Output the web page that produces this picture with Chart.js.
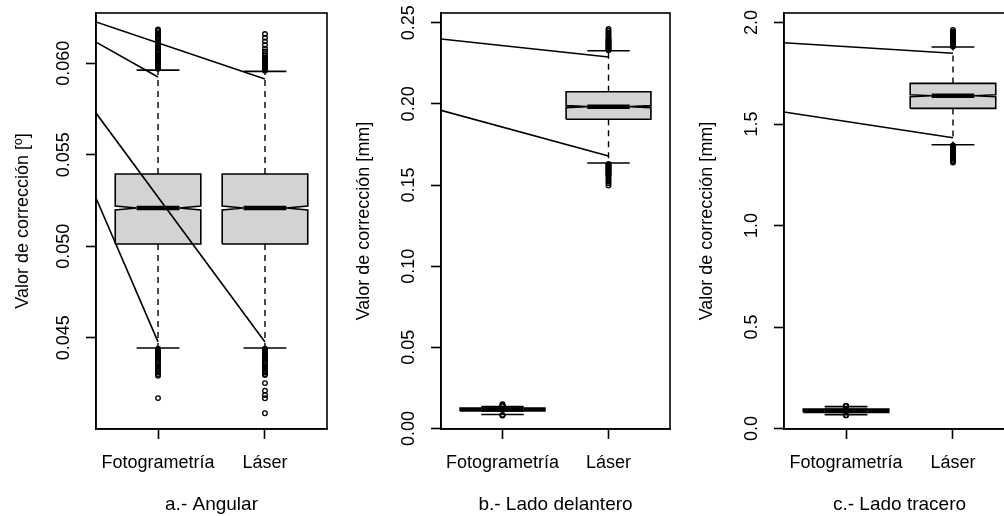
<!DOCTYPE html>
<html>
<head>
<meta charset="utf-8">
<script src="https://cdn.jsdelivr.net/npm/chart.js@4.4.1/dist/chart.umd.min.js"></script>
<style>
  html, body { margin: 0; padding: 0; background: #fff; overflow: hidden; }
  .panel { position: absolute; top: 0; width: 344px; height: 516px; }
</style>
</head>
<body>
<div class="panel" style="left:0px"><canvas id="angular"></canvas></div>
<div class="panel" style="left:345px"><canvas id="delantero"></canvas></div>
<div class="panel" style="left:688px"><canvas id="tracero"></canvas></div>
<script>
// categories and titles
const categories = ['Fotogrametría', 'Láser'];
const panelTitles = ['a.- Angular', 'b.- Lado delantero', 'c.- Lado tracero'];
const yTitles = ['Valor de corrección [º]', 'Valor de corrección [mm]', 'Valor de corrección [mm]'];

// a.- Angular (Fotogrametría, Láser)
const angLow = [0.04444, 0.04444];
const angQ1 = [0.05012, 0.05012];
const angMed = [0.05209, 0.05209];
const angQ3 = [0.05395, 0.05395];
const angHigh = [0.05963, 0.05956];
const angNotch = [0.00011, 0.00011];
const angOutHigh = [
  [0.0597, 0.05975, 0.0598, 0.05985, 0.0599, 0.05995, 0.0600, 0.06005, 0.0601, 0.06015, 0.0602, 0.0603, 0.06035, 0.0604, 0.0605, 0.0606, 0.06065, 0.0607, 0.0608, 0.0609, 0.0610, 0.0611, 0.0612, 0.0613, 0.06135, 0.0614, 0.0615, 0.0616, 0.0617, 0.0618, 0.06185],
  [0.0596, 0.05965, 0.0597, 0.05975, 0.0598, 0.05985, 0.0599, 0.05995, 0.0600, 0.06005, 0.0601, 0.0602, 0.06025, 0.0603, 0.0604, 0.0605, 0.06065, 0.0608, 0.0610, 0.0612, 0.0614, 0.0616]
];
const angOutLow = [
  [0.0444, 0.04435, 0.0443, 0.04425, 0.0442, 0.04415, 0.0441, 0.04405, 0.0440, 0.04395, 0.0439, 0.04385, 0.0438, 0.0437, 0.0436, 0.0435, 0.0434, 0.0433, 0.0432, 0.0431, 0.0430, 0.04292, 0.0417],
  [0.0444, 0.04435, 0.0443, 0.04425, 0.0442, 0.04415, 0.0441, 0.04405, 0.0440, 0.04395, 0.0439, 0.04385, 0.0438, 0.0437, 0.0436, 0.0435, 0.0434, 0.0433, 0.0432, 0.0431, 0.0430, 0.04296, 0.04252, 0.0421, 0.04187, 0.04169, 0.04087]
];
// guide lines: value at the left edge -> value at a category
const angLineFrom = [0.06226, 0.06116, 0.05728, 0.05264];
const angLineTo = [0.05914, 0.05925, 0.04477, 0.04477];
const angLineCat = [2, 1, 2, 1];
const angTicks = [0.045, 0.050, 0.055, 0.060];
const angTickLabels = ['0.045', '0.050', '0.055', '0.060'];

// b.- Lado delantero
const delLow = [0.0086, 0.1636];
const delQ1 = [0.0108, 0.1905];
const delMed = [0.0117, 0.1983];
const delQ3 = [0.0126, 0.2075];
const delHigh = [0.01355, 0.2327];
const delNotch = [0.0001, 0.0006];
const delOutHigh = [
  [0.0138, 0.0141, 0.0144, 0.0147, 0.0150],
  [0.2330, 0.2335, 0.2340, 0.2345, 0.2350, 0.2355, 0.2360, 0.2365, 0.2370, 0.2375, 0.2380, 0.2385, 0.2390, 0.2395, 0.2400, 0.2410, 0.2420, 0.2430, 0.2440, 0.2450, 0.2461]
];
const delOutLow = [
  [0.0084, 0.0082, 0.0080],
  [0.1630, 0.1625, 0.1620, 0.1615, 0.1610, 0.1605, 0.1600, 0.1595, 0.1590, 0.1585, 0.1580, 0.1575, 0.1570, 0.1565, 0.1560, 0.1550, 0.1540, 0.1530, 0.1520, 0.1510, 0.1497]
];
const delLineFrom = [0.2400, 0.1960];
const delLineTo = [0.2289, 0.1679];
const delLineCat = [2, 2];
const delTicks = [0.00, 0.05, 0.10, 0.15, 0.20, 0.25];
const delTickLabels = ['0.00', '0.05', '0.10', '0.15', '0.20', '0.25'];

// c.- Lado tracero
const traLow = [0.069, 1.398];
const traQ1 = [0.080, 1.577];
const traMed = [0.088, 1.639];
const traQ3 = [0.096, 1.700];
const traHigh = [0.108, 1.879];
const traNotch = [0.0008, 0.005];
const traOutHigh = [
  [0.110, 0.1115, 0.113],
  [1.882, 1.885, 1.888, 1.891, 1.894, 1.897, 1.900, 1.903, 1.906, 1.909, 1.912, 1.915, 1.918, 1.921, 1.925, 1.930, 1.935, 1.940, 1.945, 1.950, 1.956, 1.963]
];
const traOutLow = [
  [0.067, 0.065],
  [1.395, 1.392, 1.389, 1.386, 1.383, 1.380, 1.377, 1.374, 1.371, 1.368, 1.365, 1.362, 1.359, 1.356, 1.352, 1.348, 1.344, 1.340, 1.335, 1.330, 1.324, 1.317, 1.310]
];
const traLineFrom = [1.9005, 1.5591];
const traLineTo = [1.8483, 1.4325];
const traLineCat = [2, 2];
const traTicks = [0.0, 0.5, 1.0, 1.5, 2.0];
const traTickLabels = ['0.0', '0.5', '1.0', '1.5', '2.0'];

const FONT = '"Liberation Sans", Arial, Helvetica, sans-serif';
const xMin = 0.42, xMax = 2.58;
const boxHalf = 0.4, capHalf = 0.2;
const ink = '#000';
const lw = 1.6;

// lower "order" is painted on top
function line(points, extra) {
  return Object.assign({
    data: points, borderColor: ink, borderWidth: lw, pointRadius: 0, fill: false, order: 5
  }, extra || {});
}

function boxDatasets(pos, lo, q1, med, q3, hi, notch, outHi, outLo) {
  const L = pos - boxHalf, R = pos + boxHalf, a = pos - capHalf, b = pos + capHalf;
  return [
    line([{x: pos, y: q3}, {x: pos, y: hi}], {borderDash: [6, 5], borderWidth: 1.4}),
    line([{x: pos, y: q1}, {x: pos, y: lo}], {borderDash: [6, 5], borderWidth: 1.4}),
    line([{x: a, y: hi}, {x: b, y: hi}], {order: 4}),
    line([{x: a, y: lo}, {x: b, y: lo}], {order: 4}),
    line([
      {x: L, y: q1}, {x: L, y: med - notch}, {x: a, y: med}, {x: L, y: med + notch},
      {x: L, y: q3}, {x: R, y: q3}, {x: R, y: med + notch}, {x: b, y: med},
      {x: R, y: med - notch}, {x: R, y: q1}, {x: L, y: q1}
    ], {fill: 'shape', backgroundColor: '#d3d3d3', order: 3}),
    line([{x: a, y: med}, {x: b, y: med}], {borderWidth: 4.5, borderCapStyle: 'butt', order: 2}),
    {
      data: outHi.concat(outLo).map(v => ({x: pos, y: v})),
      showLine: false, pointRadius: 2.3, pointBorderWidth: 1.3,
      pointBorderColor: ink, pointBackgroundColor: 'rgba(0,0,0,0)', order: 2
    }
  ];
}

const framePlugin = {
  id: 'frame',
  afterDraw(chart, args, opts) {
    const {ctx, chartArea: c} = chart;
    const ys = chart.scales.y;
    ctx.save();
    ctx.strokeStyle = ink;
    ctx.lineWidth = lw;
    ctx.strokeRect(Math.round(c.left), Math.round(c.top), Math.round(c.right - c.left), Math.round(c.bottom - c.top));
    ctx.fillStyle = ink;
    ctx.font = '18px ' + FONT;
    ctx.textAlign = 'center';
    ctx.textBaseline = 'middle';
    ys.ticks.forEach((t, i) => {
      ctx.save();
      ctx.translate(c.left - 31.5, ys.getPixelForValue(t.value));
      ctx.rotate(-Math.PI / 2);
      ctx.fillText(opts.labels[i], 0, 0);
      ctx.restore();
    });
    ctx.restore();
  }
};

function makePanel(id, p) {
  let datasets = [];
  for (let i = 0; i < categories.length; i++) {
    datasets = datasets.concat(boxDatasets(i + 1, p.low[i], p.q1[i], p.med[i], p.q3[i], p.high[i], p.notch[i], p.outHigh[i], p.outLow[i]));
  }
  p.lineFrom.forEach((v, i) => {
    datasets.push(line([{x: xMin, y: v}, {x: p.lineCat[i], y: p.lineTo[i]}], {order: 1}));
  });

  return new Chart(document.getElementById(id), {
    type: 'line',
    data: {datasets: datasets},
    options: {
      responsive: true,
      maintainAspectRatio: false,
      animation: false,
      events: [],
      layout: {padding: {left: 0, top: 13, right: p.padRight, bottom: 0}},
      elements: {line: {tension: 0}, point: {radius: 0, hoverRadius: 0}},
      plugins: {
        legend: {display: false},
        tooltip: {enabled: false},
        frame: {labels: p.tickLabels}
      },
      scales: {
        x: {
          type: 'linear', min: xMin, max: xMax,
          afterBuildTicks: s => { s.ticks = categories.map((c, i) => ({value: i + 1})); },
          afterFit: s => { s.height = 87; },
          ticks: {
            autoSkip: false, maxRotation: 0, padding: 13, color: ink,
            font: {family: FONT, size: 18},
            callback: v => categories[Math.round(v) - 1]
          },
          grid: {drawOnChartArea: false, tickLength: 10, tickColor: ink, tickWidth: lw},
          border: {display: true, color: ink, width: lw},
          title: {display: true, text: p.title, color: ink, font: {family: FONT, size: 19}, padding: {top: 0, bottom: 0}}
        },
        y: {
          type: 'linear', min: p.yMin, max: p.yMax,
          afterBuildTicks: s => { s.ticks = p.ticks.map(v => ({value: v})); },
          afterFit: s => { s.width = 96; },
          ticks: {display: false},
          grid: {drawOnChartArea: false, tickLength: 10, tickColor: ink, tickWidth: lw},
          border: {display: true, color: ink, width: lw},
          title: {display: true, text: p.yTitle, color: ink, font: {family: FONT, size: 18}, padding: {top: p.titlePad, bottom: 0}}
        }
      }
    },
    plugins: [framePlugin]
  });
}

makePanel('angular', {
  low: angLow, q1: angQ1, med: angMed, q3: angQ3, high: angHigh, notch: angNotch,
  outHigh: angOutHigh, outLow: angOutLow,
  lineFrom: angLineFrom, lineTo: angLineTo, lineCat: angLineCat,
  ticks: angTicks, tickLabels: angTickLabels,
  yMin: 0.04001, yMax: 0.06275, title: panelTitles[0], yTitle: yTitles[0],
  titlePad: 12, padRight: 17
});
makePanel('delantero', {
  low: delLow, q1: delQ1, med: delMed, q3: delQ3, high: delHigh, notch: delNotch,
  outHigh: delOutHigh, outLow: delOutLow,
  lineFrom: delLineFrom, lineTo: delLineTo, lineCat: delLineCat,
  ticks: delTicks, tickLabels: delTickLabels,
  yMin: -0.0003, yMax: 0.25598, title: panelTitles[1], yTitle: yTitles[1],
  titlePad: 8, padRight: 19
});
makePanel('tracero', {
  low: traLow, q1: traQ1, med: traMed, q3: traQ3, high: traHigh, notch: traNotch,
  outHigh: traOutHigh, outLow: traOutLow,
  lineFrom: traLineFrom, lineTo: traLineTo, lineCat: traLineCat,
  ticks: traTicks, tickLabels: traTickLabels,
  yMin: -0.002, yMax: 2.0468, title: panelTitles[2], yTitle: yTitles[2],
  titlePad: 8, padRight: 17
});
</script>
</body>
</html>
